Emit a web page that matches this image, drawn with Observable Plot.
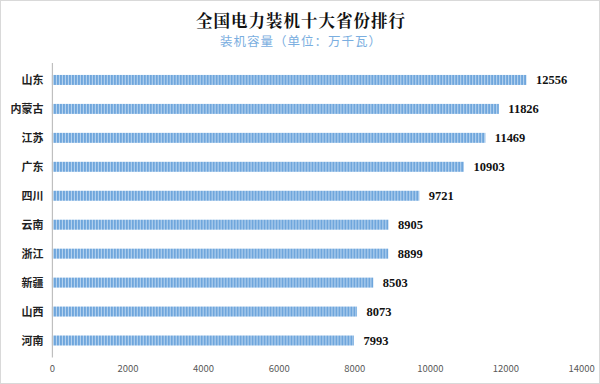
<!DOCTYPE html>
<html><head><meta charset="utf-8">
<script src="https://cdn.jsdelivr.net/npm/d3@7"></script>
<script src="https://cdn.jsdelivr.net/npm/@observablehq/plot@0.6"></script>
<style>
html,body{margin:0;padding:0;background:#fff;}
#wrap{position:relative;width:600px;height:384px;box-sizing:border-box;border:1px solid #d9d9d9;background:#fff;overflow:hidden;}
#title{position:absolute;left:0;top:7px;width:600px;text-align:center;font-family:"Noto Serif CJK SC","Noto Sans CJK SC",serif;font-weight:bold;font-size:16.5px;color:#111;letter-spacing:1px;}
#subtitle{position:absolute;left:0;top:30px;width:600px;text-align:center;font-family:"Noto Sans CJK SC",sans-serif;font-size:12.5px;color:#7aaee0;letter-spacing:1px;}
#chart{position:absolute;left:-1px;top:47px;}
</style></head>
<body>
<div id="wrap">
<div id="title">全国电力装机十大省份排行</div>
<div id="subtitle">装机容量（单位：万千瓦）</div>
<div id="chart"></div>
</div>
<script>
const provinces = ["山东","内蒙古","江苏","广东","四川","云南","浙江","新疆","山西","河南"];
const capacity = [12556,11826,11469,10903,9721,8905,8899,8503,8073,7993];
const xTicks = [0,2000,4000,6000,8000,10000,12000,14000];

const data = provinces.map((p,i)=>({province:p, value:capacity[i]}));

const plot = Plot.plot({
  width: 600,
  height: 337,
  marginLeft: 52,
  marginRight: 18,
  marginTop: 15,
  marginBottom: 27,
  style: {background: "transparent", fontFamily: "'Noto Sans CJK SC', sans-serif"},
  x: {domain: [0,14000], ticks: xTicks, tickFormat: d => String(d), label: null},
  y: {domain: provinces, paddingInner: 0.66, paddingOuter: 0.33, label: null},
  marks: [
    Plot.barX(data, {x: "value", y: "province", fill: "url(#stripes)"}),
    Plot.ruleX([0], {stroke: "#bfbfbf", strokeWidth: 1.2}),
    Plot.axisX({ticks: xTicks, tickSize: 0, tickPadding: 7, fontSize: 9.5, fill: "#595959", tickFormat: d => String(d), label: null}),
    Plot.axisY({tickSize: 0, tickPadding: 9, fontSize: 11, fill: "#222", fontWeight: "bold", label: null}),
    Plot.text(data, {x: "value", y: "province", text: d => String(d.value), dx: 9, textAnchor: "start", fontWeight: "bold", fontSize: 12.5, fontFamily: "'Liberation Serif', serif", fill: "#111"})
  ]
});

const svg = d3.select(plot);
const defs = svg.insert("defs", ":first-child");
const pat = defs.append("pattern").attr("id","stripes").attr("patternUnits","userSpaceOnUse").attr("width",3).attr("height",10);
pat.append("rect").attr("width",3).attr("height",10).attr("fill","#6fa6dc");
pat.append("rect").attr("x",2).attr("width",1).attr("height",10).attr("fill","#bcd7f1");

document.getElementById("chart").appendChild(plot);
</script>
</body></html>
